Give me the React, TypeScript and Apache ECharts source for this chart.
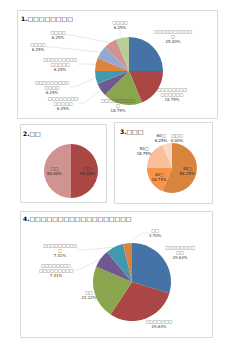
import React, { useEffect, useRef } from "react";
import * as echarts from "echarts";

const q1Names = [
  "□□□□□□□□□□\n□",
  "□□□□□□□□\n□□□□□□",
  "□□□□□□□□□\n□",
  "□□□□□□□□\n□□□□□",
  "□□□□□□□□□\n□□□□",
  "□□□□□□□□□\n□□□□□",
  "□□□□",
  "□□□□",
  "□□□□",
];
const q1Values = [4, 3, 3, 1, 1, 1, 1, 1, 1];

const q2Names = ["□□", "□□"];
const q2Values = [1, 1];

const q3Names = ["30□", "40□", "50□", "60□", "□□□"];
const q3Values = [9, 3, 3, 1, 0];

const q4Names = [
  "□□□□□□□□\n□□",
  "□□□□□□□",
  "□□",
  "□□□□□□□□\n□□□□□□□□□",
  "□□□□□□□□□\n□",
  "□□",
];
const q4Values = [8, 8, 6, 2, 2, 1];

const titles = ["□□□□□□□□", "□□", "□□□", "□□□□□□□□□□□□□□□□□□"];

const palette = ["#4572A7", "#AA4643", "#89A54E", "#71588F", "#4198AF", "#DB843D", "#93A9CF", "#D19392", "#B9CD96"];
const q2Colors = ["#AA4643", "#D19392"];
const q3Colors = ["#D9853F", "#F7964A", "#F9BE9A", "#FBD7C3", "#FDE9DD"];

const FONT = "DejaVu Sans, sans-serif";

// label anchor positions (label layout only)
const labelPos: Record<number, ([number, number] | null)[]> = {
  0: [[173, 36], [172, 94], [118, 105], [63, 103], [52, 87], [60, 64], [38, 47], [58, 35], [120, 25]],
  2: [null, null, [144, 151], [161, 138], [177, 138]],
  3: [[180, 252], [159, 324], [89, 295], [56, 270], [60, 250], [155, 233]],
};
const noLine: Record<number, number[]> = { 0: [0, 1, 2], 2: [2, 3, 4], 3: [0, 1, 2] };

function mk(names: string[], values: number[], colors: string[], hideLine: number[] = []) {
  return names.map((n, i) => ({
    name: n,
    value: values[i],
    itemStyle: { color: colors[i] },
    labelLine: hideLine.includes(i) ? { show: false } : undefined,
  }));
}

const labelBase = {
  fontSize: 4,
  lineHeight: 5,
  color: "#404040",
  fontFamily: FONT,
  formatter: (p: any) => `${p.name}\n${p.percent.toFixed(2)}%`,
};
const lineBase = { lineStyle: { color: "#D0D0D0", width: 0.5 } };

const panel = (x: number, y: number, w: number, h: number) => ({
  type: "rect",
  shape: { x: x + 0.5, y: y + 0.5, width: w, height: h },
  style: { fill: "none", stroke: "#D9D9D9", lineWidth: 1 },
  silent: true,
});
const title = (x: number, y: number, num: string, t: string) => ({
  type: "text",
  x,
  y,
  style: {
    text: `{n|${num}}{t|${t}}`,
    rich: {
      n: { fontSize: 6, fontWeight: "bold", fill: "#000", fontFamily: FONT },
      t: { fontSize: 6, fill: "#000", fontFamily: FONT },
    },
    verticalAlign: "middle",
  },
});
const layoutFor = (k: number) => (p: any) => {
  const arr = labelPos[k];
  if (!arr) return {};
  const pos = arr[p.dataIndex];
  if (!pos) return {};
  return { x: pos[0], y: pos[1], align: "center", verticalAlign: "middle" };
};

function buildOptions(): any[] {
  return [
    {
      animation: false,
      graphic: [panel(17, 10, 200, 108), title(21, 18, "1.", titles[0])],
      series: [
        {
          type: "pie",
          center: [129, 71],
          radius: 34,
          startAngle: 90,
          data: mk(q1Names, q1Values, palette, noLine[0]),
          label: { ...labelBase, position: "outside" },
          labelLine: { ...lineBase, length: 4, length2: 6 },
          labelLayout: layoutFor(0),
        },
      ],
    },
    {
      animation: false,
      graphic: [panel(20, 124, 86, 78), title(23, 133, "2.", titles[1])],
      series: [
        {
          type: "pie",
          center: [71, 171],
          radius: 27,
          startAngle: 90,
          data: mk(q2Names, q2Values, q2Colors),
          label: { ...labelBase, position: "inside", color: "#262626" },
          labelLine: { show: false },
        },
      ],
    },
    {
      animation: false,
      graphic: [panel(114, 122, 98, 81), title(120, 131, "3.", titles[2])],
      series: [
        {
          type: "pie",
          center: [172, 168],
          radius: 25,
          startAngle: 90,
          data: mk(q3Names, q3Values, q3Colors, noLine[2]).map((d, i) =>
            i >= 2 ? { ...d, label: { position: "outside" } } : d
          ),
          label: { ...labelBase, position: "inside", color: "#262626" },
          labelLine: { show: false, length: 2, length2: 2 },
          labelLayout: layoutFor(2),
        },
      ],
    },
    {
      animation: false,
      graphic: [panel(20, 211, 192, 126), title(23, 218, "4.", titles[3])],
      series: [
        {
          type: "pie",
          center: [132, 282],
          radius: 39,
          startAngle: 90,
          data: mk(q4Names, q4Values, palette, noLine[3]),
          label: { ...labelBase, position: "outside" },
          labelLine: { ...lineBase, length: 4, length2: 6 },
          labelLayout: layoutFor(3),
        },
      ],
    },
  ];
}

function Layer({ option }: { option: any }) {
  const ref = useRef<HTMLDivElement>(null);
  useEffect(() => {
    const chart = echarts.init(ref.current!, null, { renderer: "svg" });
    chart.setOption(option);
    return () => chart.dispose();
  }, [option]);
  return (
    <div
      ref={ref}
      style={{ position: "absolute", left: 0, top: 0, width: 250, height: 353, pointerEvents: "none" }}
    />
  );
}

const OPTIONS = buildOptions();

export default function App() {
  useEffect(() => {
    document.body.style.margin = "0";
  }, []);
  return (
    <div style={{ position: "relative", width: 250, height: 353, background: "#fff" }}>
      {OPTIONS.map((o, i) => (
        <Layer key={i} option={o} />
      ))}
    </div>
  );
}
